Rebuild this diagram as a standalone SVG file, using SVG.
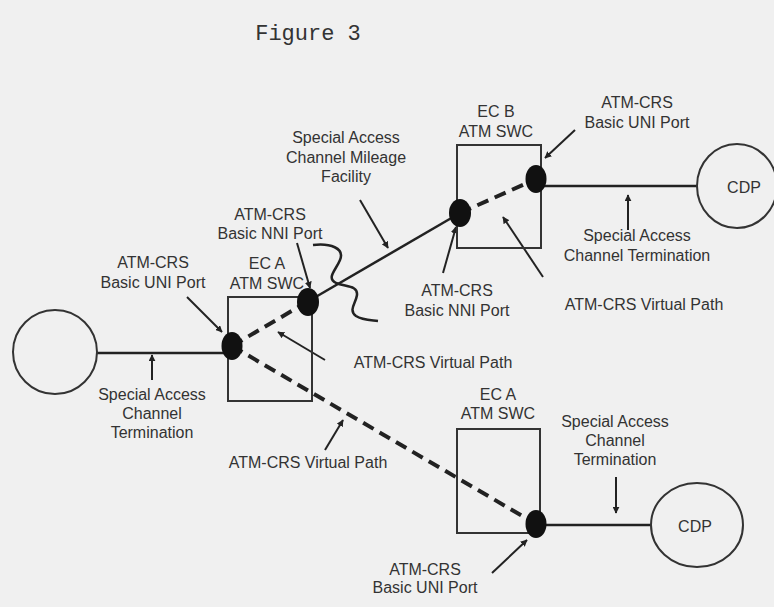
<svg xmlns="http://www.w3.org/2000/svg" width="774" height="607" viewBox="0 0 774 607">
<defs>
<marker id="ah" viewBox="0 0 10 10" refX="9" refY="5" markerWidth="7" markerHeight="7" markerUnits="userSpaceOnUse" orient="auto">
<path d="M0,0 L10,5 L0,10 z" fill="#222"/>
</marker>
<style>
.t{font-family:"Liberation Sans",Arial,sans-serif;font-size:16px;fill:#333;text-anchor:middle}
.m{font-family:"Liberation Mono","Courier New",monospace;font-size:22px;fill:#333;text-anchor:middle}
.box{fill:none;stroke:#333;stroke-width:2}
.node{fill:none;stroke:#333;stroke-width:2}
.ln{stroke:#222;stroke-width:2.5;fill:none}
.dash{stroke:#222;stroke-width:4;stroke-dasharray:12 7;fill:none}
.arr{stroke:#222;stroke-width:2;fill:none;marker-end:url(#ah)}
.dot{fill:#111}
</style>
</defs>
<rect width="774" height="607" fill="#f0f0f0"/>
<text class="m" x="308" y="40">Figure 3</text>

<g id="connectors">
<line class="ln" x1="97" y1="353" x2="232" y2="353"/>
<line class="dash" x1="232" y1="346" x2="307" y2="302"/>
<line class="ln" x1="307" y1="302" x2="460" y2="213"/>
<line class="dash" x1="460" y1="213" x2="536" y2="179"/>
<line class="ln" x1="536" y1="186" x2="697" y2="186"/>
<line class="dash" x1="232" y1="346" x2="536" y2="524"/>
<line class="ln" x1="536" y1="525" x2="651" y2="525"/>
<path class="ln" stroke-width="2" d="M313,245 C330,243 345,248 340,260 C336,270 326,278 336,283 C345,287 358,285 357,295 C356,303 348,310 356,316 C362,320 370,320 378,321"/>
<line class="arr" x1="360" y1="200" x2="388" y2="248"/>
<line class="arr" x1="297" y1="243" x2="310" y2="288"/>
<line class="arr" x1="187" y1="297" x2="222" y2="332"/>
<line class="arr" x1="152" y1="380" x2="152" y2="355"/>
<line class="arr" x1="325" y1="360" x2="278" y2="332"/>
<line class="arr" x1="325" y1="450" x2="343" y2="420"/>
<line class="arr" x1="575" y1="130" x2="545" y2="158"/>
<line class="arr" x1="443" y1="273" x2="456" y2="227"/>
<line class="arr" x1="543" y1="277" x2="503" y2="217"/>
<line class="arr" x1="628" y1="230" x2="628" y2="195"/>
<line class="arr" x1="616" y1="477" x2="616" y2="513"/>
<line class="arr" x1="492" y1="573" x2="527" y2="540"/>
</g>

<g id="customer-left">
<circle class="node" cx="55" cy="352" r="42"/>
</g>
<g id="ec-a-swc">
<rect class="box" x="228" y="297" width="84" height="104"/>
<text class="t" x="267" y="269">EC A</text>
<text class="t" x="267" y="289">ATM SWC</text>
</g>
<g id="ec-b-swc">
<rect class="box" x="457" y="145" width="84" height="103"/>
<text class="t" x="496" y="117">EC B</text>
<text class="t" x="496" y="137">ATM SWC</text>
</g>
<g id="ec-a-swc-2">
<rect class="box" x="457" y="429" width="83" height="104"/>
<text class="t" x="498" y="400">EC A</text>
<text class="t" x="498" y="419">ATM SWC</text>
</g>
<g id="cdp-top">
<ellipse class="node" cx="737" cy="186" rx="40" ry="42"/>
<text class="t" x="744" y="193">CDP</text>
</g>
<g id="cdp-bottom">
<ellipse class="node" cx="697" cy="525" rx="46" ry="42"/>
<text class="t" x="695" y="532">CDP</text>
</g>

<g id="port-a-uni"><ellipse class="dot" cx="232" cy="346" rx="10.5" ry="14"/></g>
<g id="port-a-nni"><ellipse class="dot" cx="308" cy="302" rx="11" ry="14"/></g>
<g id="port-b-nni"><ellipse class="dot" cx="460" cy="213" rx="11" ry="14"/></g>
<g id="port-b-uni"><ellipse class="dot" cx="536" cy="179" rx="10.5" ry="14"/></g>
<g id="port-a2-uni"><ellipse class="dot" cx="536" cy="524" rx="10.5" ry="14"/></g>

<g id="labels">
<text class="t" x="346" y="143">Special Access</text>
<text class="t" x="346" y="163">Channel Mileage</text>
<text class="t" x="346" y="182">Facility</text>
<text class="t" x="637" y="108">ATM-CRS</text>
<text class="t" x="637" y="128">Basic UNI Port</text>
<text class="t" x="637" y="241">Special Access</text>
<text class="t" x="637" y="261">Channel Termination</text>
<text class="t" x="457" y="296">ATM-CRS</text>
<text class="t" x="457" y="316">Basic NNI Port</text>
<text class="t" x="644" y="310">ATM-CRS Virtual Path</text>
<text class="t" x="270" y="220">ATM-CRS</text>
<text class="t" x="270" y="239">Basic NNI Port</text>
<text class="t" x="153" y="268">ATM-CRS</text>
<text class="t" x="153" y="288">Basic UNI Port</text>
<text class="t" x="433" y="368">ATM-CRS Virtual Path</text>
<text class="t" x="152" y="400">Special Access</text>
<text class="t" x="152" y="419">Channel</text>
<text class="t" x="152" y="438">Termination</text>
<text class="t" x="308" y="468">ATM-CRS Virtual Path</text>
<text class="t" x="615" y="427">Special Access</text>
<text class="t" x="615" y="446">Channel</text>
<text class="t" x="615" y="465">Termination</text>
<text class="t" x="425" y="575">ATM-CRS</text>
<text class="t" x="425" y="593">Basic UNI Port</text>
</g>
</svg>
